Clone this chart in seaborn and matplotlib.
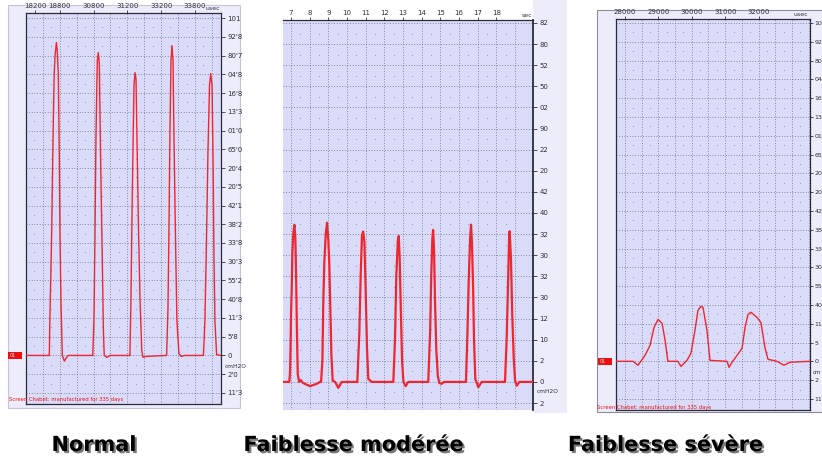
import numpy as np
import pandas as pd
import matplotlib
matplotlib.use("Agg")
import matplotlib.pyplot as plt
import matplotlib.patheffects as pe
from matplotlib.patches import Rectangle
import seaborn as sns

# ---- pressure traces (time in grid divisions / seconds, pressure in grid units) ----
normal_t = [0.00, 1.38, 1.42, 1.52, 1.58, 1.62, 1.67, 1.72, 1.80, 1.85, 1.91, 1.97, 2.01, 2.07, 2.15,
            2.27, 2.37, 2.50,
            3.95, 4.02, 4.08, 4.14, 4.22, 4.28, 4.34, 4.42, 4.50, 4.58, 4.63, 4.78, 4.97,
            6.15, 6.21, 6.27, 6.33, 6.39, 6.45, 6.51, 6.57, 6.66, 6.75, 6.85, 6.92, 7.10,
            8.32, 8.40, 8.46, 8.52, 8.58, 8.64, 8.70, 8.76, 8.85, 8.93, 9.05, 9.17, 9.41,
            10.50, 10.59, 10.68, 10.77, 10.86, 10.93, 11.01, 11.07, 11.12, 11.18, 11.28, 11.54]
normal_p = [0.00, 0.00, 2.24, 6.51, 10.40, 12.69, 15.04, 16.00, 16.70, 16.27, 15.04, 10.77, 6.51, 2.83, 0.00,
            -0.30, -0.15, 0.00,
            0.00, 1.87, 6.29, 11.63, 15.73, 16.16, 15.57, 10.24, 5.97, 1.33, 0.00, -0.10, 0.00,
            0.00, 2.93, 7.20, 10.93, 14.40, 15.09, 14.77, 11.47, 6.67, 2.93, 0.27, -0.10, -0.05,
            0.00, 2.40, 6.67, 12.00, 15.73, 16.53, 15.73, 11.47, 6.13, 1.87, 0.10, -0.05, 0.00,
            0.00, 1.87, 6.13, 10.93, 14.40, 15.04, 14.40, 10.40, 5.60, 1.87, 0.05, 0.00]

moderate_t = [6.57, 6.91, 6.95, 6.98, 7.00, 7.04, 7.07, 7.12, 7.18, 7.23, 7.27, 7.31, 7.36, 7.43, 7.52,
              7.64, 8.02, 8.38, 8.55,
              8.61, 8.68, 8.73, 8.78, 8.86, 8.93, 9.00, 9.05, 9.10, 9.16, 9.23, 9.36, 9.53, 9.72,
              10.55, 10.66, 10.73, 10.80, 10.86, 10.93, 11.00, 11.07, 11.14, 11.32,
              12.48, 12.57, 12.64, 12.72, 12.77, 12.82, 12.88, 12.95, 13.02, 13.14, 13.28,
              14.35, 14.45, 14.51, 14.57, 14.61, 14.66, 14.71, 14.78, 14.86, 14.94, 15.07, 15.19,
              16.37, 16.44, 16.52, 16.59, 16.64, 16.69, 16.75, 16.80, 16.87, 17.03, 17.21,
              18.46, 18.55, 18.62, 18.68, 18.71, 18.78, 18.85, 18.93, 19.00, 19.09, 19.23, 19.96]
moderate_p = [0.00, 0.00, 0.52, 1.94, 3.22, 4.50, 6.07, 7.01, 7.44, 6.87, 5.12, 2.75, 0.38, 0.00, 0.09,
              -0.05, -0.20, -0.09, 0.00,
              0.00, 1.01, 3.85, 5.59, 7.01, 7.54, 6.70, 5.59, 3.70, 1.33, 0.06, 0.00, -0.28, 0.00,
              0.00, 2.37, 5.04, 6.93, 7.12, 6.64, 4.27, 1.56, 0.14, 0.00,
              0.00, 2.04, 5.04, 6.70, 6.91, 5.83, 3.46, 0.93, 0.00, -0.20, 0.00,
              0.00, 2.36, 5.04, 6.78, 7.20, 6.30, 3.93, 1.56, 0.30, -0.05, -0.09, 0.00,
              0.00, 2.04, 4.88, 6.78, 7.45, 6.62, 4.56, 2.04, 0.14, -0.25, 0.00,
              0.00, 2.04, 4.56, 6.78, 7.14, 5.83, 3.14, 1.09, 0.06, -0.18, 0.00, 0.00]

severe_t = [-0.54, 0.48, 0.78, 1.20, 1.50, 1.74, 1.98, 2.22, 2.40, 2.57,
            3.17, 3.35, 3.71, 3.95, 4.19, 4.37, 4.55, 4.67, 4.91, 5.09,
            6.11, 6.23, 6.41, 6.71, 7.01, 7.19, 7.37, 7.54, 7.90, 8.14, 8.38, 8.56,
            9.10, 9.52, 9.88, 11.08]
severe_p = [0.00, 0.00, -0.21, 0.32, 0.85, 1.81, 2.23, 2.02, 1.12, 0.00,
            0.00, -0.27, 0.05, 0.43, 1.65, 2.71, 2.93, 2.87, 1.65, 0.05,
            0.00, -0.32, -0.05, 0.32, 0.69, 1.81, 2.50, 2.61, 2.34, 2.07, 0.74, 0.11,
            0.00, -0.21, -0.05, 0.00]

# ---- axis labels ----
normal_top_pos = [0.53, 2, 4, 6, 8, 10]
normal_top_lab = ["18200", "18800", "30800", "31200", "33200", "33800"]
moderate_top_pos = list(range(7, 19))
moderate_top_lab = [str(v) for v in moderate_top_pos]
severe_top_pos = [0, 2, 4, 6, 8]
severe_top_lab = ["28000", "29000", "30000", "31000", "32000"]

scale_21 = ["101", "92'8", "80'7", "04'8", "16'8", "13'3", "01'0", "65'0", "20'4", "20'5",
            "42'1", "38'2", "33'8", "30'3", "55'2", "40'8", "11'3", "5'8", "0", "2'0", "11'3"]
scale_19 = ["82", "80", "52", "50", "02", "90", "22", "20", "42", "40",
            "32", "30", "32", "30", "12", "10", "2", "0", "2"]
scale_21_short = ["10", "92", "80", "04", "16", "13", "01", "65", "20", "20",
                  "42", "38", "33", "30", "55", "40", "11", "5", "0", "2", "11"]

titles = ["Normal", "Faiblesse modérée", "Faiblesse sévère"]
footer = "Screen Chabet: manufactured for 335 days"

# ---- figure ----
sns.set_theme(style="white")
plt.rcParams["font.family"] = ["DejaVu Sans"]
W, H = 822, 461
fig = plt.figure(figsize=(W / 100, H / 100), dpi=100, facecolor="white")


def box(l, t, r, b):
    return [l / W, 1 - b / H, (r - l) / W, (b - t) / H]


def frame(l, t, r, b, edge):
    fig.add_artist(Rectangle((l / W, 1 - b / H), (r - l) / W, (b - t) / H,
                             transform=fig.transFigure, facecolor="#ececfb",
                             edgecolor=edge, linewidth=0.8, zorder=-5))


frame(8, 5, 240, 408, "#c4c4d8")
frame(533, 0, 566, 412, "#ececfb")
frame(597, 10, 830, 412, "#8c8c9c")

PLOT_BG = "#dadaf9"
GRID = "#6c6c82"
RED = "#ee2630"


def style(ax, xlim, ylim, xgrid, ygrid, top_pos, top_lab, right_lab, spines_lb=True,
          ylab_size=5):
    ax.set_facecolor(PLOT_BG)
    ax.set_xlim(*xlim)
    ax.set_ylim(*ylim)
    for x in xgrid:
        ax.axvline(x, color=GRID, lw=0.6, ls=(0, (1, 2.2)), zorder=1)
    for y in ygrid:
        ax.axhline(y, color=GRID, lw=0.6, ls=(0, (1, 2.2)), zorder=1)
    cx, cy = np.meshgrid(np.asarray(xgrid[:-1]) + 0.5, np.asarray(ygrid[:-1]) + 0.5)
    ax.scatter(cx.ravel(), cy.ravel(), s=0.6, color="#9090a8", linewidths=0, zorder=1)
    ax.xaxis.tick_top()
    ax.set_xticks(top_pos, top_lab)
    ax.yaxis.tick_right()
    ax.set_yticks(sorted(ygrid, reverse=True), right_lab)
    ax.tick_params(axis="x", direction="out", length=2, width=0.6, labelsize=5,
                   pad=1, colors="#303040")
    ax.tick_params(axis="y", direction="out", length=3, width=0.6, labelsize=ylab_size,
                   pad=1.5, colors="#303040")
    for s in ax.spines.values():
        s.set_color("#2c2c3a")
        s.set_linewidth(0.9)
    if not spines_lb:
        ax.spines["left"].set_visible(False)
        ax.spines["bottom"].set_visible(False)
    ax.set_xlabel("")
    ax.set_ylabel("")


# Normal
ax1 = fig.add_axes(box(26, 13, 221, 404))
style(ax1, (0, 11.54), (-2.59, 18.27), list(range(0, 12)), list(range(-2, 19)),
      normal_top_pos, normal_top_lab, scale_21)
sns.lineplot(x=normal_t, y=normal_p, ax=ax1, color=RED, lw=1.0, sort=False,
             estimator=None, zorder=3)
ax1.text(11.07, 1.004, "usec", transform=ax1.get_xaxis_transform(), fontsize=4.5,
         ha="center", va="bottom", color="#303040")
ax1.text(1.02, -0.6, "cmH2O", transform=ax1.get_yaxis_transform(), fontsize=4.2,
         ha="left", va="center", color="#303040")

# Faiblesse moderee
ax2 = fig.add_axes(box(283, 20, 533, 410))
style(ax2, (6.57, 19.96), (-1.33, 17.14), list(range(7, 20)), list(range(-1, 18)),
      moderate_top_pos, moderate_top_lab, scale_19, spines_lb=False)
sns.lineplot(x=moderate_t, y=moderate_p, ax=ax2, color=RED, lw=1.6, sort=False,
             estimator=None, zorder=3)
ax2.spines["right"].set_linewidth(1.3)
ax2.text(19.64, 1.004, "sec", transform=ax2.get_xaxis_transform(), fontsize=4.5,
         ha="center", va="bottom", color="#303040")
ax2.text(1.015, -0.45, "cmH2O", transform=ax2.get_yaxis_transform(), fontsize=4.2,
         ha="left", va="center", color="#303040")

# Faiblesse severe
ax3 = fig.add_axes(box(616, 19, 810, 410))
style(ax3, (-0.54, 11.08), (-2.59, 18.21), list(range(0, 12)), list(range(-2, 19)),
      severe_top_pos, severe_top_lab, scale_21_short, ylab_size=4.5)
ax3.tick_params(axis="y", length=2.5, pad=0.8)
sns.lineplot(x=severe_t, y=severe_p, ax=ax3, color=RED, lw=1.0, sort=False,
             estimator=None, zorder=3)
ax3.text(10.54, 1.004, "usec", transform=ax3.get_xaxis_transform(), fontsize=4.5,
         ha="center", va="bottom", color="#303040")
ax3.text(1.015, -0.6, "cm", transform=ax3.get_yaxis_transform(), fontsize=4.0,
         ha="left", va="center", color="#303040")

# zero markers and footers
for (l, t, r, b) in [(8, 352, 22, 359), (598, 358, 612, 365)]:
    fig.add_artist(Rectangle((l / W, 1 - b / H), (r - l) / W, (b - t) / H,
                             transform=fig.transFigure, facecolor="#ee1010",
                             edgecolor="none", zorder=5))
    fig.text((l + 2) / W, 1 - (t + b) / 2 / H, "01", fontsize=3.5, color="#b8f0f0",
             va="center", ha="left", zorder=6)
fig.text(9 / W, 1 - 399 / H, footer, fontsize=3.8, color="#ee1010", va="center", ha="left")
fig.text(597 / W, 1 - 407 / H, footer, fontsize=3.8, color="#ee1010", va="center", ha="left")

shadow = [pe.SimplePatchShadow(offset=(1.5, -1.5), shadow_rgbFace="#404040", alpha=0.7),
          pe.Normal()]
for cx, txt in zip([94, 354, 666], titles):
    fig.text(cx / W, 1 - 445 / H, txt, fontsize=15, fontweight="bold", ha="center",
             va="center", color="black", path_effects=shadow)

fig.savefig("out.png", dpi=100, facecolor="white")
